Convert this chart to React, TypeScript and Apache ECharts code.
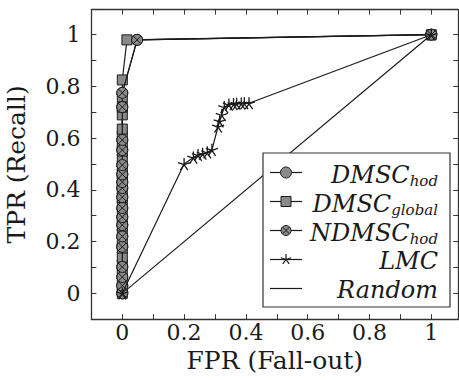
import React, { useEffect, useRef } from 'react';
import * as echarts from 'echarts';

// ---- data ----
const dmscHodX = [0, 0, 0, 0, 0, 0, 0, 0, 0, 0, 0, 0, 0, 0, 0, 0, 0, 0, 0.048, 1];
const dmscHodY = [0, 0.03, 0.063, 0.102, 0.18, 0.22, 0.264, 0.295, 0.33, 0.372, 0.407, 0.43, 0.46, 0.496, 0.554, 0.593, 0.72, 0.775, 0.98, 1];

const dmscGlobalX = [0, 0, 0, 0, 0, 0, 0, 0, 0, 0, 0, 0, 0, 0, 0, 0, 0, 0, 0, 0, 0, 0, 0, 0, 0, 0, 0, 0.015, 1];
const dmscGlobalY = [0, 0.02, 0.05, 0.08, 0.11, 0.14, 0.175, 0.2, 0.23, 0.26, 0.28, 0.31, 0.34, 0.37, 0.4, 0.43, 0.46, 0.49, 0.52, 0.55, 0.58, 0.61, 0.635, 0.69, 0.72, 0.76, 0.825, 0.98, 1];

const ndmscHodX = [0, 0, 0, 0, 0, 0, 0, 0, 0, 0, 0, 0, 0, 0, 0, 0, 0, 0, 0.048, 1];
const ndmscHodY = [0, 0.03, 0.063, 0.102, 0.18, 0.22, 0.264, 0.295, 0.33, 0.372, 0.407, 0.43, 0.46, 0.496, 0.554, 0.593, 0.72, 0.775, 0.98, 1];

const lmcX = [0, 0.2, 0.23, 0.245, 0.26, 0.275, 0.29, 0.31, 0.315, 0.322, 0.33, 0.345, 0.36, 0.37, 0.385, 0.395, 0.41, 1];
const lmcY = [0, 0.5, 0.525, 0.535, 0.54, 0.545, 0.555, 0.645, 0.665, 0.69, 0.72, 0.73, 0.732, 0.733, 0.734, 0.735, 0.735, 1];

const randomX = [0, 1];
const randomY = [0, 1];

const seriesNames = ['DMSC_hod', 'DMSC_global', 'NDMSC_hod', 'LMC', 'Random'];
const legendMain = ['DMSC', 'DMSC', 'NDMSC', 'LMC', 'Random'];
const legendSub = ['hod', 'global', 'hod', '', ''];

const xLabel = 'FPR (Fall-out)';
const yLabel = 'TPR (Recall)';

const OTIMES = 'path://M0,-10A10,10,0,1,1,0,10A10,10,0,1,1,0,-10ZM-7.07,-7.07L7.07,7.07M7.07,-7.07L-7.07,7.07';
const STAR = 'path://M0,0L0,-10M0,0L9.51,-3.09M0,0L5.88,8.09M0,0L-5.88,8.09M0,0L-9.51,-3.09';

const FONT = 'DejaVu Serif';
const INK = '#1a1a1a';
const GREY = '#8a8a8a';

const pairs = (xs: number[], ys: number[]) => xs.map((x, i) => [x, ys[i]]);

const fmt = (v: number) => {
  const r = Math.round(v * 10) / 10;
  if (Math.abs(v - r) > 1e-6) return '';
  if (r < -1e-9 || r > 1 + 1e-9) return '';
  if (Math.abs(r * 5 - Math.round(r * 5)) > 1e-6) return '';
  return String(Math.round(r * 10) / 10);
};

export default function App() {
  const ref = useRef<HTMLDivElement>(null);
  useEffect(() => {
    if (!ref.current) return;
    const chart = echarts.init(ref.current, undefined, { renderer: 'svg' });

    const axisCommon = {
      type: 'value' as const,
      interval: 0.1,
      axisLine: { show: true, onZero: false, lineStyle: { color: '#333', width: 1.3 } },
      axisTick: { show: true, inside: true, length: 5, lineStyle: { color: '#333', width: 1 } },
      splitLine: { show: false },
    };

    const legX0 = 263, legX1 = 450, legY0 = 153, legY1 = 307;
    const rowY = [172.5, 201.5, 230.5, 259.5, 288.5];
    const iconL = 270, iconR = 302, iconC = 286, textR = 438;
    const g: any[] = [];
    g.push({
      type: 'rect', z: 100,
      shape: { x: legX0, y: legY0, width: legX1 - legX0, height: legY1 - legY0 },
      style: { fill: '#fff', stroke: '#333', lineWidth: 1.2 },
    });
    rowY.forEach((y, i) => {
      g.push({ type: 'line', z: 101, shape: { x1: iconL, y1: y, x2: iconR, y2: y }, style: { stroke: INK, lineWidth: 1.2 } });
      if (i === 0) {
        g.push({ type: 'circle', z: 102, shape: { cx: iconC, cy: y, r: 5.5 }, style: { fill: GREY, stroke: INK, lineWidth: 1 } });
      } else if (i === 1) {
        g.push({ type: 'rect', z: 102, shape: { x: iconC - 5, y: y - 5, width: 10, height: 10 }, style: { fill: GREY, stroke: INK, lineWidth: 1 } });
      } else if (i === 2) {
        g.push({ type: 'circle', z: 102, shape: { cx: iconC, cy: y, r: 5 }, style: { fill: GREY, stroke: INK, lineWidth: 1 } });
        g.push({ type: 'line', z: 103, shape: { x1: iconC - 3.5, y1: y - 3.5, x2: iconC + 3.5, y2: y + 3.5 }, style: { stroke: INK, lineWidth: 1 } });
        g.push({ type: 'line', z: 103, shape: { x1: iconC + 3.5, y1: y - 3.5, x2: iconC - 3.5, y2: y + 3.5 }, style: { stroke: INK, lineWidth: 1 } });
      } else if (i === 3) {
        const pts = [[0, -5.5], [5.2, -1.7], [3.2, 4.45], [-3.2, 4.45], [-5.2, -1.7]];
        pts.forEach(([dx, dy]) => {
          g.push({ type: 'line', z: 103, shape: { x1: iconC, y1: y, x2: iconC + dx, y2: y + dy }, style: { stroke: INK, lineWidth: 1.2 } });
        });
      }
      if (legendSub[i]) {
        g.push({
          type: 'text', z: 104,
          style: {
            text: `{m|${legendMain[i]}}{s|${legendSub[i]}}`,
            x: textR, y: y - 10, align: 'right', verticalAlign: 'top',
            rich: {
              m: { fontFamily: FONT, fontStyle: 'italic', fontSize: 24, lineHeight: 20, verticalAlign: 'top', fill: INK },
              s: { fontFamily: FONT, fontStyle: 'italic', fontSize: 15, lineHeight: 12, padding: [11, 0, 0, 0], verticalAlign: 'top', fill: INK },
            },
          },
        });
      } else {
        g.push({
          type: 'text', z: 104,
          style: {
            text: legendMain[i], x: textR, y: y + 1.5, align: 'right', verticalAlign: 'middle',
            fontFamily: FONT, fontStyle: 'italic', fontSize: 24, fill: INK,
          },
        });
      }
    });

    const lineStyle = { color: INK, width: 1.2 };
    const option: any = {
      animation: false,
      backgroundColor: '#fff',
      grid: { left: 91.4, right: 0.8, top: 9.6, bottom: 60.8, containLabel: false, outerBoundsMode: 'none' },
      xAxis: [
        {
          ...axisCommon, position: 'bottom', min: -0.1, max: 1.087,
          name: xLabel, nameLocation: 'middle', nameGap: 23,
          nameTextStyle: { fontFamily: FONT, fontSize: 25, color: INK },
          axisLabel: { show: true, margin: 2, fontFamily: FONT, fontSize: 22, color: INK, formatter: fmt },
        },
        {
          ...axisCommon, position: 'top', min: -0.1, max: 1.087,
          axisLabel: { show: false },
        },
      ],
      yAxis: [
        {
          ...axisCommon, position: 'left', min: -0.1, max: 1.097,
          name: yLabel, nameLocation: 'middle', nameGap: 62,
          nameTextStyle: { fontFamily: FONT, fontSize: 25, color: INK },
          axisLabel: { show: true, margin: 11, fontFamily: FONT, fontSize: 22, color: INK, formatter: fmt },
        },
        {
          ...axisCommon, position: 'right', min: -0.1, max: 1.097,
          axisLabel: { show: false },
        },
      ],
      series: [
        {
          name: seriesNames[0], type: 'line', data: pairs(dmscHodX, dmscHodY),
          symbol: 'circle', symbolSize: 11, showAllSymbol: true,
          lineStyle, itemStyle: { color: GREY, borderColor: INK, borderWidth: 1 }, z: 2,
        },
        {
          name: seriesNames[1], type: 'line', data: pairs(dmscGlobalX, dmscGlobalY),
          symbol: 'rect', symbolSize: 10, showAllSymbol: true,
          lineStyle, itemStyle: { color: GREY, borderColor: INK, borderWidth: 1 }, z: 3,
        },
        {
          name: seriesNames[2], type: 'line', data: pairs(ndmscHodX, ndmscHodY),
          symbol: OTIMES, symbolSize: 11, showAllSymbol: true,
          lineStyle, itemStyle: { color: GREY, borderColor: INK, borderWidth: 1 }, z: 4,
        },
        {
          name: seriesNames[3], type: 'line', data: pairs(lmcX, lmcY),
          symbol: STAR, symbolSize: 12, showAllSymbol: true,
          lineStyle, itemStyle: { color: INK, borderColor: INK, borderWidth: 1.3 }, z: 5,
        },
        {
          name: seriesNames[4], type: 'line', data: pairs(randomX, randomY),
          symbol: 'none', lineStyle, z: 1,
        },
      ],
      graphic: g,
    };
    chart.setOption(option);
    return () => chart.dispose();
  }, []);
  return <div ref={ref} style={{ width: 459, height: 380, position: 'absolute', left: 0, top: 0 }} />;
}
